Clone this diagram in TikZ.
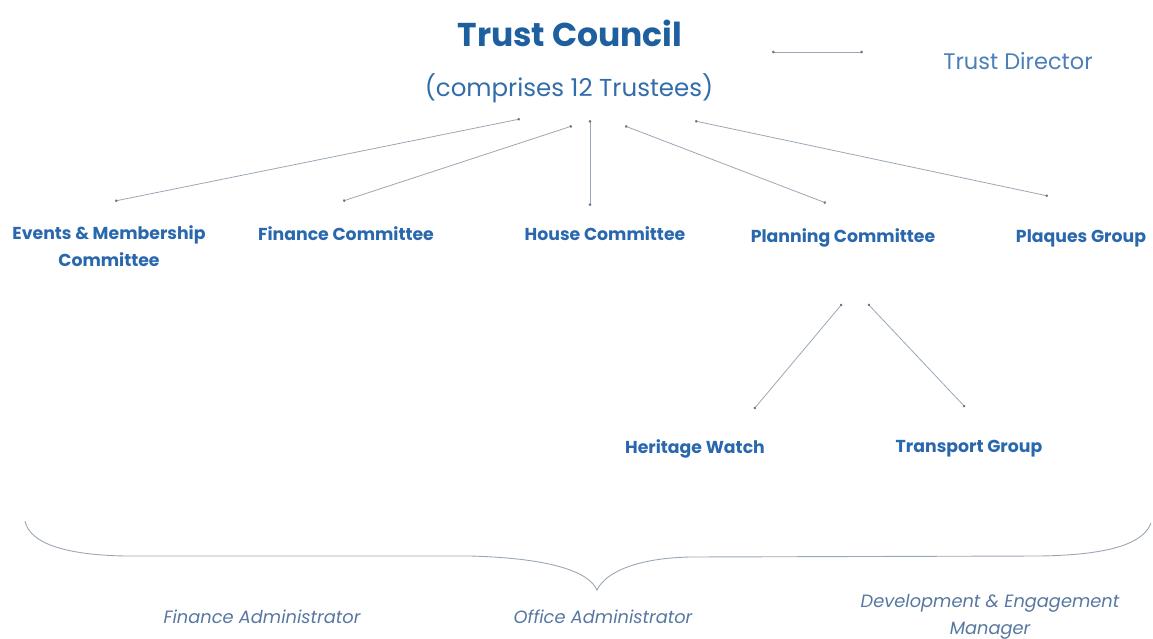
\documentclass[tikz,border=0pt]{standalone}
\usepackage{fontspec}
\setmainfont{Poppins}
\usetikzlibrary{arrows.meta}
\definecolor{titleblue}{HTML}{1E5FA0}
\definecolor{subblue}{HTML}{336CAB}
\definecolor{dirblue}{HTML}{4C7FB8}
\definecolor{cmtblue}{HTML}{2A68AE}
\definecolor{staffblue}{HTML}{5777A0}
\definecolor{linkgray}{HTML}{9AA7B5}
\definecolor{dotgray}{HTML}{6F7A86}
\tikzset{
  every node/.style={inner sep=0pt, outer sep=0pt, anchor=center},
  title/.style={text=titleblue, font=\fontsize{33}{38}\selectfont\bfseries},
  subtitle/.style={text=subblue, font=\fontsize{24.5}{28}\selectfont},
  director/.style={text=dirblue, font=\fontsize{22.5}{26}\selectfont},
  cmt/.style={text=cmtblue, font=\fontsize{17.3}{27}\selectfont\bfseries, align=center},
  staff/.style={text=staffblue, font=\fontsize{17.8}{27}\selectfont\itshape, align=center},
  link/.style={draw=linkgray, line width=0.8pt,
    {Circle[length=2.6pt, fill=dotgray, color=dotgray]}-{Circle[length=2.6pt, fill=dotgray, color=dotgray]}},
  bracepath/.style={draw=linkgray, line width=0.9pt}
}
\begin{document}
\begin{tikzpicture}[x=1pt, y=-1pt]
  \useasboundingbox (0,0) rectangle (1153,639);

  % council and director
  \node[title] (council) at (570,33) {Trust Council};
  \node[subtitle] (comprises) at (569,88) {(comprises 12 Trustees)};
  \node[director] (director) at (1018,61) {Trust Director};

  % committees
  \node[cmt] (events) at (109,246) {Events \& Membership\\Committee};
  \node[cmt] (finance) at (346,234) {Finance Committee};
  \node[cmt] (house) at (605,234) {House Committee};
  \node[cmt] (planning) at (843,238) {Planning Committee};
  \node[cmt] (plaques) at (1081,238) {Plaques Group};

  % planning sub-groups
  \node[cmt] (heritage) at (695,449) {Heritage Watch};
  \node[cmt] (transport) at (969,449) {Transport Group};

  % staff
  \node[staff] (finadmin) at (262,617) {Finance Administrator};
  \node[staff] (offadmin) at (603,617) {Office Administrator};
  \node[staff] (devmgr) at (990,617) {Development \& Engagement\\Manager};

  % connector ends
  \coordinate (dirA) at (772,52);
  \coordinate (dirB) at (863,52);
  \coordinate (tcEv) at (520,119);
  \coordinate (tcFi) at (572,126);
  \coordinate (tcHo) at (590,120);
  \coordinate (tcPl) at (625,126);
  \coordinate (tcPq) at (695,121);
  \coordinate (evTop) at (115,201);
  \coordinate (fiTop) at (343,201);
  \coordinate (hoTop) at (590,206);
  \coordinate (plTop) at (826,203);
  \coordinate (pqTop) at (1048,196);
  \coordinate (plBotL) at (842,304);
  \coordinate (plBotR) at (868,304);
  \coordinate (heTop) at (754,409);
  \coordinate (trTop) at (965,407);

  \draw[link] (dirA) -- (dirB);
  \draw[link] (evTop) -- (tcEv);
  \draw[link] (fiTop) -- (tcFi);
  \draw[link] (hoTop) -- (tcHo);
  \draw[link] (plTop) -- (tcPl);
  \draw[link] (pqTop) -- (tcPq);
  \draw[link] (plBotL) -- (heTop);
  \draw[link] (plBotR) -- (trTop);

  % brace over the staff
  \coordinate (brL) at (25,521);
  \coordinate (brTip) at (597,590);
  \coordinate (brR) at (1151,523);
  \draw[bracepath] (brL) .. controls (30,545) and (70,555) .. (125,556)
    -- (470,556) .. controls (545,558) and (588,570) .. (brTip)
    .. controls (606,571) and (640,558) .. (690,557)
    -- (1040,556) .. controls (1105,555) and (1143,545) .. (brR);
\end{tikzpicture}
\end{document}
